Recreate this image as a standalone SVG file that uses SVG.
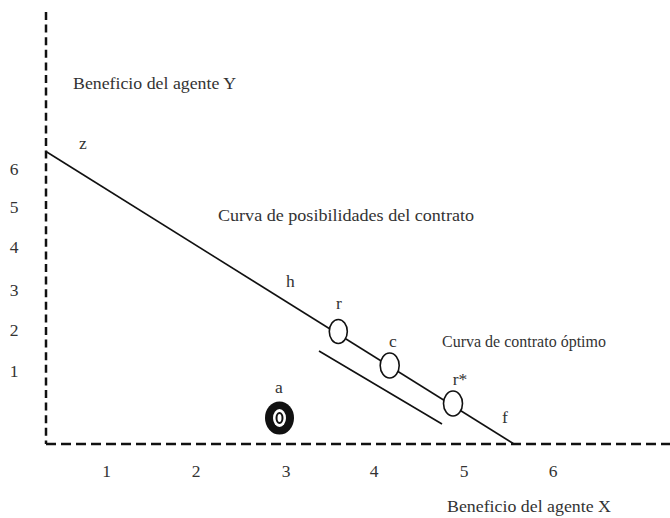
<svg xmlns="http://www.w3.org/2000/svg" width="670" height="518" viewBox="0 0 670 518">
<style>
text{font-family:"Liberation Serif","Times New Roman",serif;font-size:17.5px;fill:#333}
.axis{fill:none;stroke:#111;stroke-width:2.5}
.ln{fill:none;stroke:#111;stroke-width:1.6}
.pt{fill:#fff;stroke:#111;stroke-width:1.6}
</style>
<rect width="670" height="518" fill="#fff"/>
<g id="axes">
<line class="axis" x1="46" y1="12" x2="46" y2="444" stroke-dasharray="8 4.6"/>
<line class="axis" x1="46" y1="444" x2="670" y2="444" stroke-dasharray="10 5"/>
</g>
<g id="connectors">
<line class="ln" x1="46" y1="151.5" x2="514" y2="444"/>
<line class="ln" x1="319" y1="351" x2="442" y2="424"/>
</g>
<g id="node-r"><ellipse class="pt" cx="338.3" cy="331.5" rx="9" ry="12"/><text x="339" y="309" text-anchor="middle">r</text></g>
<g id="node-c"><ellipse class="pt" cx="389.7" cy="365.5" rx="9.5" ry="12.5"/><text x="393" y="347" text-anchor="middle">c</text></g>
<g id="node-rstar"><ellipse class="pt" cx="453" cy="403.5" rx="9.5" ry="12.5"/><text x="460" y="385" text-anchor="middle">r*</text></g>
<g id="node-a">
<ellipse cx="279.5" cy="418" rx="14.5" ry="16.5" fill="#111"/>
<ellipse cx="279.5" cy="418" rx="6.5" ry="9" fill="#fff"/>
<ellipse cx="279.5" cy="418" rx="3" ry="5" fill="#fff" stroke="#111" stroke-width="2"/>
<text x="279" y="393" text-anchor="middle">a</text>
</g>
<g id="labels">
<text x="73" y="89" textLength="163" lengthAdjust="spacingAndGlyphs">Beneficio del agente Y</text>
<text x="79" y="149">z</text>
<text x="218" y="221" textLength="256" lengthAdjust="spacingAndGlyphs">Curva de posibilidades del contrato</text>
<text x="286" y="287">h</text>
<text x="502" y="423">f</text>
<text x="442" y="347" textLength="164" lengthAdjust="spacingAndGlyphs">Curva de contrato óptimo</text>
<text x="447" y="512" textLength="164" lengthAdjust="spacingAndGlyphs">Beneficio del agente X</text>
</g>
<g id="yticks" text-anchor="middle">
<text x="14" y="175">6</text>
<text x="14" y="213">5</text>
<text x="14" y="253">4</text>
<text x="14" y="296">3</text>
<text x="14" y="336">2</text>
<text x="14" y="377">1</text>
</g>
<g id="xticks" text-anchor="middle">
<text x="106.5" y="477">1</text>
<text x="196" y="477">2</text>
<text x="286" y="477">3</text>
<text x="374" y="477">4</text>
<text x="464" y="477">5</text>
<text x="553" y="477">6</text>
</g>
</svg>
